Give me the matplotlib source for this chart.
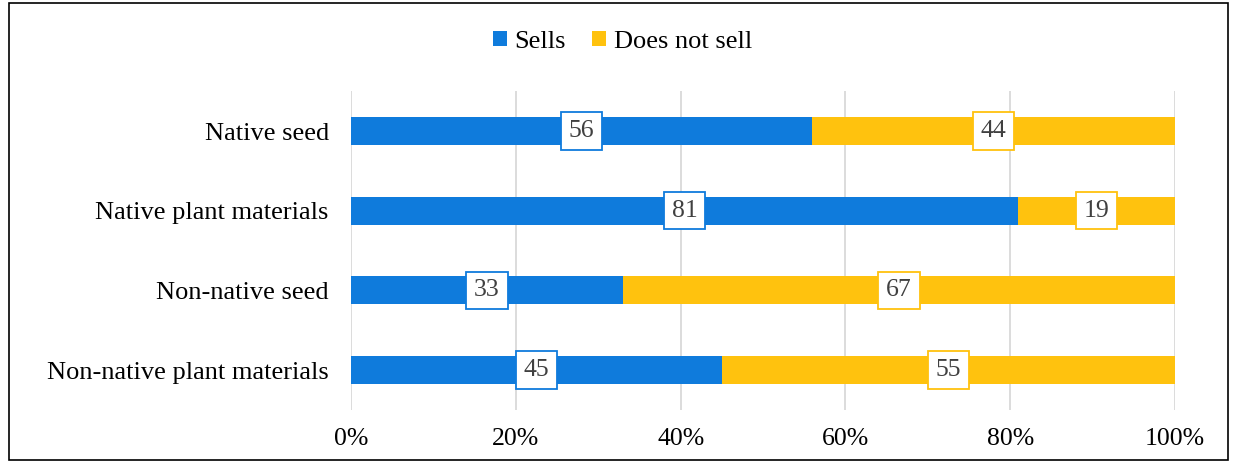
import matplotlib.pyplot as plt
from matplotlib.patches import Rectangle

categories = ['Native seed', 'Native plant materials', 'Non-native seed', 'Non-native plant materials']
sells = [56, 81, 33, 45]
does_not_sell = [44, 19, 67, 55]
xticks = [0, 20, 40, 60, 80, 100]
xtick_labels = ['0%', '20%', '40%', '60%', '80%', '100%']

blue = '#0F7BDC'
yellow = '#FFC20E'

plt.rcParams['font.family'] = ['Liberation Serif', 'DejaVu Serif']

fig = plt.figure(figsize=(12.33, 4.62), dpi=100)
ax = fig.add_axes([0.2847, 0.1126, 0.6683, 0.690])

y = list(range(len(categories)))
bar_h = 0.35
ax.barh(y, sells, height=bar_h, color=blue, label='Sells', zorder=2)
ax.barh(y, does_not_sell, left=sells, height=bar_h, color=yellow, label='Does not sell', zorder=2)

for i in y:
    ax.text(sells[i] / 2, i, str(sells[i]), ha='center', va='center', fontsize=18.5, color='#404040',
            zorder=3, bbox=dict(boxstyle='square,pad=0.3', fc='white', ec=blue, lw=1.3))
    ax.text(sells[i] + does_not_sell[i] / 2, i, str(does_not_sell[i]), ha='center', va='center',
            fontsize=18.5, color='#404040', zorder=3,
            bbox=dict(boxstyle='square,pad=0.3', fc='white', ec=yellow, lw=1.3))

ax.set_xlim(0, 100)
ax.set_ylim(len(categories) - 0.5, -0.5)
ax.set_xticks(xticks)
ax.set_xticklabels(xtick_labels, fontsize=18.5)
ax.set_yticks(y)
ax.set_yticklabels(categories, fontsize=19)
ax.tick_params(axis='x', length=0, pad=13)
ax.tick_params(axis='y', length=0, pad=16)
ax.grid(axis='x', color='#D9D9D9', lw=1.3, zorder=0)
for s in ax.spines.values():
    s.set_visible(False)

ax.legend(loc='center', bbox_to_anchor=(0.505, 0.91), bbox_transform=fig.transFigure, ncol=2,
          frameon=False, fontsize=19, handlelength=0.5, handleheight=0.5, handletextpad=0.3,
          columnspacing=1.0)

fig.patches.append(Rectangle((0.007, 0.004), 0.989, 0.99, transform=fig.transFigure,
                             fill=False, ec='black', lw=1.2))

plt.savefig('out.png', dpi=100)
